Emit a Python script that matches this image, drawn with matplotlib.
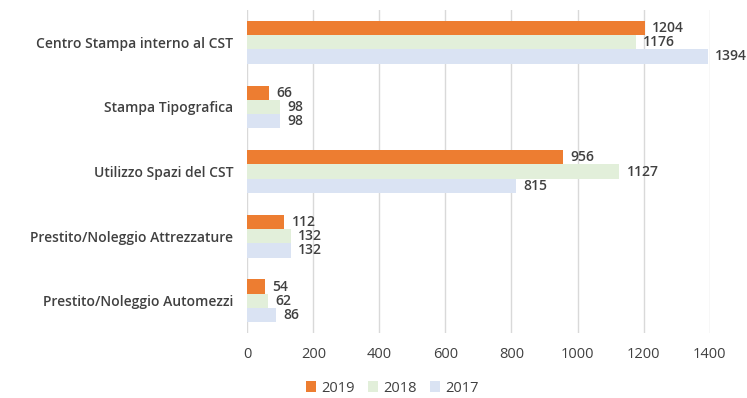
import numpy as np
from matplotlib import pyplot as plt

categories = ['Centro Stampa interno al CST', 'Stampa Tipografica', 'Utilizzo Spazi del CST',
              'Prestito/Noleggio Attrezzature', 'Prestito/Noleggio Automezzi']
values_2019 = [1204, 66, 956, 112, 54]
values_2018 = [1176, 98, 1127, 132, 62]
values_2017 = [1394, 98, 815, 132, 86]

series = [('2019', values_2019, '#ED7D31'),
          ('2018', values_2018, '#E2EFDA'),
          ('2017', values_2017, '#DAE3F3')]

plt.rcParams['font.family'] = ['Open Sans', 'DejaVu Sans']

fig = plt.figure(figsize=(7.47, 3.98), dpi=100)
ax = fig.add_axes([0.331, 0.163, 0.619, 0.812])

y = np.arange(len(categories))
h = 0.22
for k, (name, vals, color) in enumerate(series):
    pos = y + (k - 1) * h
    ax.barh(pos, vals, height=h, color=color, label=name, zorder=2)
    for p, v in zip(pos, vals):
        ax.text(v + 22, p, str(v), va='center', ha='left', fontsize=10,
                fontweight='semibold', color='#404040')

ax.set_ylim(len(categories) - 0.5, -0.5)
ax.set_xlim(0, 1400)
ax.set_xticks(range(0, 1401, 200))
ax.set_yticks(y)
ax.set_yticklabels(categories, fontsize=10, fontweight='semibold', color='#404040')
ax.tick_params(axis='x', labelsize=10.5, colors='#404040', length=0, pad=10)
ax.tick_params(axis='y', length=0, pad=10)
ax.grid(axis='x', color='#D9D9D9', linewidth=1, zorder=0)
for s in ax.spines.values():
    s.set_visible(False)

fig.legend(loc='center', bbox_to_anchor=(0.525, 0.025), ncol=3, frameon=False,
           fontsize=10.5, handlelength=0.7, handleheight=0.7, columnspacing=0.9,
           handletextpad=0.35, labelcolor='#404040')

plt.savefig('out.png', dpi=100)
